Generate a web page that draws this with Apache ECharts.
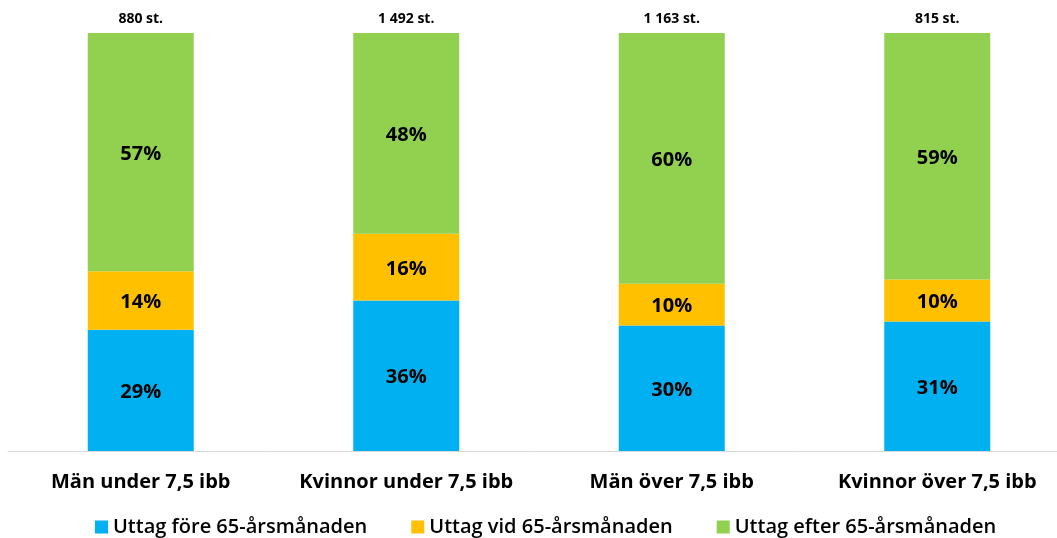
<!DOCTYPE html>
<html>
<head>
<meta charset="utf-8">
<script src="https://cdn.jsdelivr.net/npm/echarts@6/dist/echarts.min.js"></script>
<style>
  html, body { margin: 0; padding: 0; background: #fff; }
  #chart { width: 1057px; height: 538px; }
</style>
</head>
<body>
<div id="chart"></div>
<script>
// data
var categories = ['Män under 7,5 ibb', 'Kvinnor under 7,5 ibb', 'Män över 7,5 ibb', 'Kvinnor över 7,5 ibb'];
var totals = ['880 st.', '1 492 st.', '1 163 st.', '815 st.'];
var fore = [29, 36, 30, 31];
var vid = [14, 16, 10, 10];
var efter = [57, 48, 60, 59];
var seriesNames = ['Uttag före 65-årsmånaden', 'Uttag vid 65-årsmånaden', 'Uttag efter 65-årsmånaden'];
var colors = ['#00B0F0', '#FFC000', '#92D050'];

var font = 'Open Sans';
var chart = echarts.init(document.getElementById('chart'));

function barSeries(i, data) {
  return {
    name: seriesNames[i],
    type: 'bar',
    stack: 'total',
    barWidth: 106,
    itemStyle: { color: colors[i] },
    label: {
      show: true,
      position: 'inside',
      offset: [0, 2],
      color: '#000',
      fontFamily: font,
      fontWeight: 'bold',
      fontSize: 20,
      formatter: '{c}%'
    },
    data: data
  };
}

chart.setOption({
  backgroundColor: '#fff',
  animation: false,
  color: colors,
  grid: { top: 33, bottom: 87, left: 8, right: -13, outerBoundsMode: 'none', containLabel: false },
  legend: {
    top: 512,
    left: 90,
    itemWidth: 13,
    itemHeight: 13,
    itemGap: 44,
    icon: 'rect',
    textStyle: { fontFamily: font, fontSize: 20, fontWeight: 600, color: '#000' },
    data: seriesNames
  },
  xAxis: [
    {
      type: 'category',
      data: categories,
      axisLine: { lineStyle: { color: '#d9d9d9', width: 1 } },
      axisTick: { show: false },
      axisLabel: { margin: 21, fontFamily: font, fontSize: 20, fontWeight: 'bold', color: '#000', interval: 0 }
    },
    {
      type: 'category',
      position: 'top',
      data: totals,
      axisLine: { show: false },
      axisTick: { show: false },
      axisLabel: { margin: 7, fontFamily: font, fontSize: 14, fontWeight: 'bold', color: '#000', interval: 0 }
    }
  ],
  yAxis: {
    type: 'value',
    min: 0,
    max: 100,
    show: false
  },
  series: [
    barSeries(0, fore),
    barSeries(1, vid),
    barSeries(2, efter)
  ]
});
</script>
</body>
</html>
